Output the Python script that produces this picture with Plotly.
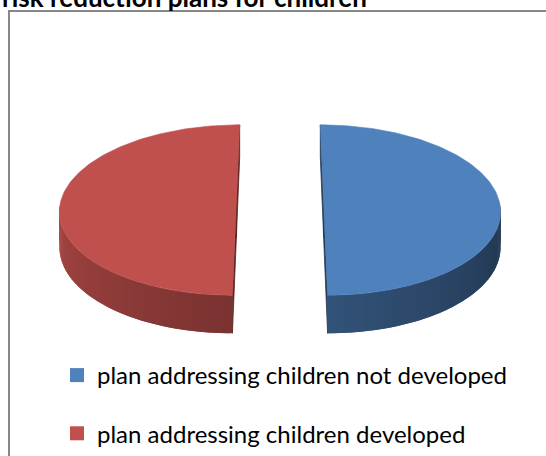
import numpy as np
import plotly.graph_objects as go

# ---- data ----
categories = ["plan addressing children not developed", "plan addressing children developed"]
values = [50, 50]
slice_colors = ["#4F81BD", "#C0504D"]
title_text = "risk reduction plans for children"

# ---- 3D pie geometry (pixel space of the 546x456 canvas) ----
W, Hgt = 546, 456
CX, CY = 280, 203          # centre of the pie's top face
RX, RY = 176, 84.6         # half axes of the top ellipse
DIST = 12.1                # perspective distance (in radius units)
WALL = 34.9                # wall height
EXPLODE = 0.248            # slice explosion (in radius units)
START = 90.0               # first slice starts at 12 o'clock, clockwise


def proj(X, Z, h=0.0):
    k = 1.0 / (1.0 + Z / DIST)
    return CX + X * RX * k, CY - Z * RY * k + h * k


def hex_to_rgb(c):
    c = c.lstrip("#")
    return tuple(int(c[i:i + 2], 16) for i in (0, 2, 4))


def shade(c, f):
    r, g, b = hex_to_rgb(c)
    return "rgb(%d,%d,%d)" % (round(r * f), round(g * f), round(b * f))


def poly(xs, ys, color, lw=0.0):
    return go.Scatter(x=list(xs) + [xs[0]], y=list(ys) + [ys[0]], mode="lines",
                      fill="toself", fillcolor=color,
                      line=dict(width=lw, color=color),
                      showlegend=False, hoverinfo="skip")


fig = go.Figure()
total = float(sum(values))
cum = 0.0
for name, v, col in zip(categories, values, slice_colors):
    a0 = START - cum / total * 360.0
    a1 = a0 - v / total * 360.0
    cum += v
    mid = np.radians((a0 + a1) / 2.0)
    ox, oz = EXPLODE * np.cos(mid), EXPLODE * np.sin(mid)

    t = np.radians(np.linspace(a0, a1, 181))
    rimX, rimZ = ox + np.cos(t), oz + np.sin(t)

    # flat cut faces along the radii
    for a in (a0, a1):
        ar = np.radians(a)
        pts = [(ox, oz, 0), (ox + np.cos(ar), oz + np.sin(ar), 0),
               (ox + np.cos(ar), oz + np.sin(ar), WALL), (ox, oz, WALL)]
        xs, ys = zip(*[proj(X, Z, h) for X, Z, h in pts])
        fig.add_trace(poly(xs, ys, shade(col, 0.45), 0.8))

    # curved outer wall (front half only), shaded left-to-right
    idx = np.where(np.sin(t) <= 1e-9)[0]
    for j0 in idx[:-1]:
        j1 = min(j0 + 2, idx[-1])
        if j1 <= j0:
            continue
        deg = np.degrees(t[j0 + 1] if j1 > j0 + 1 else t[j0]) % 360.0
        f = 0.87 - (deg - 180.0) / 180.0 * 0.47
        c = shade(col, f)
        p1 = proj(rimX[j0], rimZ[j0]); p2 = proj(rimX[j1], rimZ[j1])
        p3 = proj(rimX[j1], rimZ[j1], WALL); p4 = proj(rimX[j0], rimZ[j0], WALL)
        fig.add_trace(poly([p1[0], p2[0], p3[0], p4[0]],
                           [p1[1], p2[1], p3[1], p4[1]], c, 0))

    # top face
    cx0, cy0 = proj(ox, oz)
    tx, ty = zip(*[proj(X, Z) for X, Z in zip(rimX, rimZ)])
    fig.add_trace(poly([cx0] + list(tx), [cy0] + list(ty), col, 0.6))

# legend entries
for name, col in zip(categories, slice_colors):
    fig.add_trace(go.Scatter(x=[None], y=[None], mode="markers", name=name,
                             legendgroup=name,
                             marker=dict(symbol="square", size=14, color=col)))

fig.add_annotation(text="<b>%s</b>" % title_text, xref="paper", yref="paper",
                   x=0, y=1 + 3 / Hgt, xanchor="left", yanchor="middle",
                   showarrow=False,
                   font=dict(family="Lato", size=26, color="#000000"))

fig.add_shape(type="rect", xref="paper", yref="paper",
              x0=9 / W, x1=1.05, y0=-0.05, y1=1 - 11 / Hgt,
              line=dict(color="#878787", width=2))

fig.update_layout(
    width=W, height=Hgt,
    margin=dict(l=0, r=0, t=0, b=0),
    paper_bgcolor="white", plot_bgcolor="white",
    xaxis=dict(range=[0, W], visible=False, fixedrange=True),
    yaxis=dict(range=[Hgt, 0], visible=False, fixedrange=True),
    hovermode=False,
    showlegend=True,
    legend=dict(x=57 / W, y=0, xanchor="left", yanchor="bottom",
                traceorder="grouped", tracegroupgap=24,
                bgcolor="rgba(0,0,0,0)",
                font=dict(family="Lato", size=24, color="#000000")),
)

fig.write_html("out.html")
